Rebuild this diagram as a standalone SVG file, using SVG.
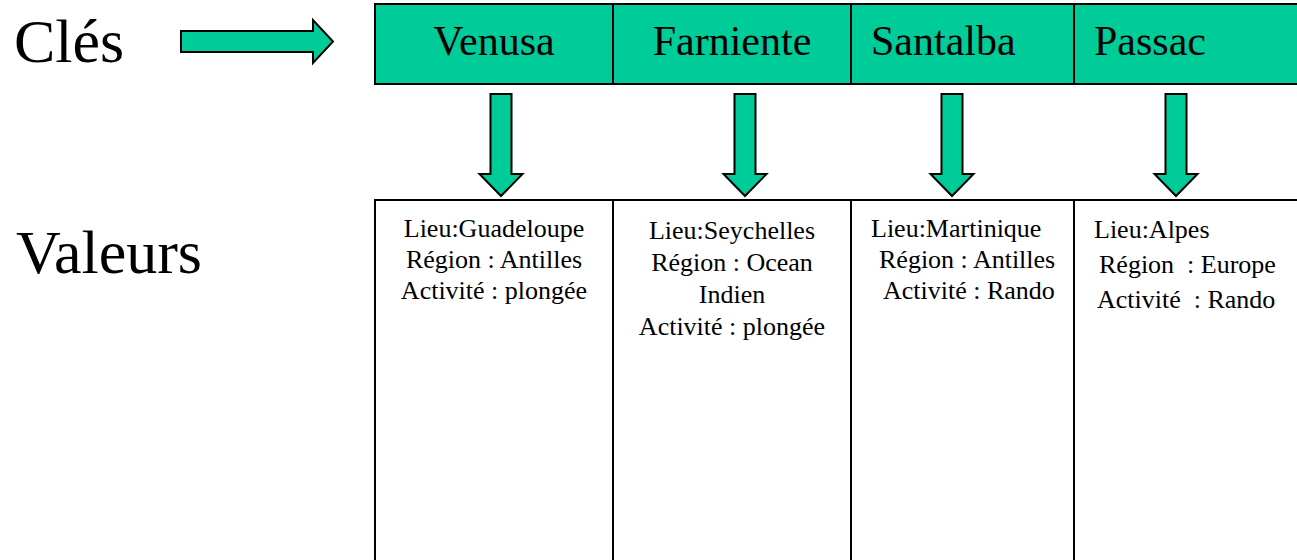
<svg xmlns="http://www.w3.org/2000/svg" width="1297" height="560" viewBox="0 0 1297 560">
<style>
.key{fill:#00CC99;stroke:#000;stroke-width:2}
.val{fill:#fff;stroke:#000;stroke-width:2}
.arr{fill:#00CC99;stroke:#000;stroke-width:2;stroke-linejoin:miter}
.big{font-family:"Liberation Serif","Times New Roman",serif;font-size:62px;fill:#000}
.kt{font-family:"Liberation Serif","Times New Roman",serif;font-size:42px;fill:#000}
.vt{font-family:"Liberation Serif","Times New Roman",serif;font-size:26px;fill:#000;white-space:pre}
</style>
<rect width="1297" height="560" fill="#fff"/>
<g id="label-cles"><text class="big" x="14" y="62">Clés</text></g>
<g id="label-valeurs"><text class="big" x="16" y="273">Valeurs</text></g>

<g id="key-venusa"><rect class="key" x="375" y="4" width="238" height="80"/><text class="kt" x="494" y="55" text-anchor="middle">Venusa</text></g>
<g id="key-farniente"><rect class="key" x="613" y="4" width="238" height="80"/><text class="kt" x="732" y="55" text-anchor="middle">Farniente</text></g>
<g id="key-santalba"><rect class="key" x="851" y="4" width="223" height="80"/><text class="kt" x="871" y="55">Santalba</text></g>
<g id="key-passac"><rect class="key" x="1074" y="4" width="240" height="80"/><text class="kt" x="1094" y="55">Passac</text></g>

<g id="val-venusa"><rect class="val" x="375" y="200" width="238" height="380"/>
<text class="vt" x="494" y="237" text-anchor="middle">Lieu:Guadeloupe</text>
<text class="vt" x="494" y="268" text-anchor="middle">Région : Antilles</text>
<text class="vt" x="494" y="299" text-anchor="middle">Activité : plongée</text></g>
<g id="val-farniente"><rect class="val" x="613" y="200" width="238" height="380"/>
<text class="vt" x="732" y="239" text-anchor="middle">Lieu:Seychelles</text>
<text class="vt" x="732" y="271" text-anchor="middle">Région : Ocean</text>
<text class="vt" x="732" y="303" text-anchor="middle">Indien</text>
<text class="vt" x="732" y="335" text-anchor="middle">Activité : plongée</text></g>
<g id="val-santalba"><rect class="val" x="851" y="200" width="223" height="380"/>
<text class="vt" x="871" y="237">Lieu:Martinique</text>
<text class="vt" x="879" y="268">Région : Antilles</text>
<text class="vt" x="883" y="299">Activité : Rando</text></g>
<g id="val-passac"><rect class="val" x="1074" y="200" width="240" height="380"/>
<text class="vt" x="1094" y="238">Lieu:Alpes</text>
<text class="vt" x="1099" y="273">Région  : Europe</text>
<text class="vt" x="1097" y="308">Activité  : Rando</text></g>

<g id="connectors">
<polygon class="arr" points="181,31 313,31 313,20 333,41.5 313,63 313,52 181,52"/>
<polygon class="arr" points="490.5,94 511.5,94 511.5,174 522.5,174 501,196 479.5,174 490.5,174"/>
<polygon class="arr" points="734.5,94 755.5,94 755.5,174 766.5,174 745,196 723.5,174 734.5,174"/>
<polygon class="arr" points="941.5,94 962.5,94 962.5,174 973.5,174 952,196 930.5,174 941.5,174"/>
<polygon class="arr" points="1165.5,94 1186.5,94 1186.5,174 1197.5,174 1176,196 1154.5,174 1165.5,174"/>
</g>
</svg>
